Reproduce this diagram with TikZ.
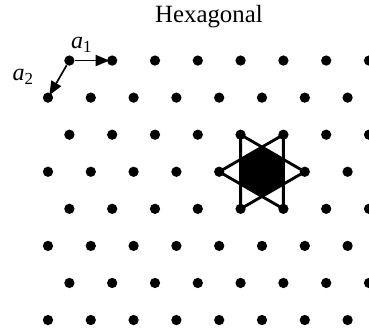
\documentclass[tikz,border=0pt]{standalone}
\usepackage{fontspec}
\setmainfont{Liberation Serif}
\usetikzlibrary{arrows.meta}

\begin{document}
\begin{tikzpicture}[
  site/.style={circle,fill=black,inner sep=0pt,minimum size=2.4mm},
  vec/.style={-{Triangle[length=3.2mm,width=2.6mm]},line width=1.1pt,shorten >=-0.6mm},
  star/.style={line width=1.9pt,line join=round},
  lbl/.style={font=\fontsize{16}{18}\selectfont\itshape,inner sep=0pt},
  title/.style={font=\fontsize{16.5}{19}\selectfont}
]
  \useasboundingbox (-1.121,-0.304) rectangle (7.5,7.477);

  % lattice points, rows r=0..7 from the bottom
  \foreach \r in {0,...,7}{
    \pgfmathsetmacro{\shift}{mod(\r,2)*0.5}
    \foreach \c in {0,...,7}{
      \node[site] (p-\c-\r) at ({\c+\shift},{\r*0.866}) {};
    }
  }

  \node[title] (title) at (3.76,7.08) {Hexagonal};

  % primitive vectors
  \draw[vec] (p-0-7) -- (p-1-7);
  \draw[vec] (p-0-7) -- (p-0-6);
  \node[lbl] (a1) at (0.79,6.43) {a\textsubscript{\upshape 1}};
  \node[lbl] (a2) at (-0.58,5.68) {a\textsubscript{\upshape 2}};

  % Wigner-Seitz cell around p-5-4
  \fill[shift={(p-5-4.center)}] (30:0.577) -- (90:0.577) -- (150:0.577)
    -- (210:0.577) -- (270:0.577) -- (330:0.577) -- cycle;
  \draw[star] (p-4-4.center) -- (p-5-5.center) -- (p-5-3.center) -- cycle;
  \draw[star] (p-6-4.center) -- (p-4-5.center) -- (p-4-3.center) -- cycle;
\end{tikzpicture}
\end{document}
